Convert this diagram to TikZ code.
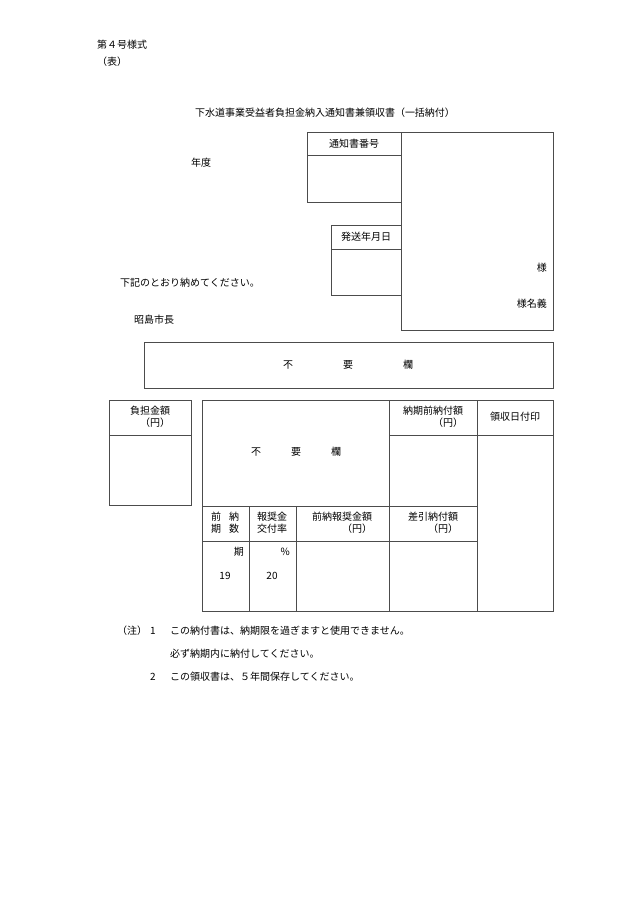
\documentclass[tikz,border=0pt]{standalone}
\usepackage{fontspec}
\setmainfont{Noto Sans CJK JP}
\usetikzlibrary{positioning}
\begin{document}
\begin{tikzpicture}[
    x=1pt, y=-1pt,
    font=\fontsize{10}{12}\selectfont,
    frame/.style={draw=black!70, line width=0.6pt},
    txt/.style={inner sep=0pt, anchor=west},
    rtxt/.style={inner sep=0pt, anchor=east},
    ctxt/.style={inner sep=0pt, align=center}
]
    \useasboundingbox (0,0) rectangle (630,903);

    % Heading
    \node[txt] (form) at (97,45) {第４号様式};
    \node[txt] (side) at (97,62) {（表）};
    \node[ctxt] (title) at (325,113) {下水道事業受益者負担金納入通知書兼領収書（一括納付）};
    \node[txt] (year) at (191,163) {年度};
    \node[txt] (pay) at (120,283) {下記のとおり納めてください。};
    \node[txt] (mayor) at (134,320) {昭島市長};

    % Upper boxes
    \draw[frame] (307,132) rectangle (401,202);
    \draw[frame] (307,155) -- (401,155);
    \node[ctxt] (numhd) at (354,144) {通知書番号};
    \draw[frame] (331,225) rectangle (401,295);
    \draw[frame] (331,249) -- (401,249);
    \node[ctxt] (datehd) at (366,237) {発送年月日};
    \draw[frame] (401,132) rectangle (553,330);
    \node[rtxt] (sama) at (547,268) {様};
    \node[rtxt] (meigi) at (547,304) {様名義};

    % Unneeded band
    \draw[frame] (144,342) rectangle (553,388);
    \node[ctxt] (fuyo1) at (348,365) {不\hspace{5em}要\hspace{5em}欄};

    % Burden amount
    \draw[frame] (109,400) rectangle (191,505);
    \draw[frame] (109,435) -- (191,435);
    \node[ctxt] (burden) at (150,417) {負担金額\\\hfill（円）};

    % Main table
    \draw[frame] (202,400) rectangle (553,611);
    \draw[frame] (389,400) -- (389,611);
    \draw[frame] (477,400) -- (477,611);
    \draw[frame] (389,435) -- (553,435);
    \draw[frame] (202,506) -- (477,506);
    \draw[frame] (202,541) -- (477,541);
    \draw[frame] (249,506) -- (249,611);
    \draw[frame] (296,506) -- (296,611);
    \node[ctxt] (fuyo2) at (296,452) {不\hspace{3em}要\hspace{3em}欄};
    \node[ctxt] (prepay) at (433,417) {納期前納付額\\\hfill（円）};
    \node[ctxt] (stamp) at (515,417) {領収日付印};
    \node[ctxt] (nterm) at (225,523) {前\hspace{0.8em}納\\期\hspace{0.8em}数};
    \node[ctxt] (rate) at (272,523) {報奨金\\交付率};
    \node[ctxt] (reward) at (342,523) {前納報奨金額\\\hfill（円）};
    \node[ctxt] (net) at (433,523) {差引納付額\\\hfill（円）};
    \node[rtxt] (ki) at (244,552) {期};
    \node[rtxt] (pct) at (290,552) {\%};
    \node[ctxt] (n19) at (225,576) {19};
    \node[ctxt] (n20) at (272,576) {20};

    % Notes
    \node[txt] (note) at (117,631) {（注）};
    \node[txt] (one) at (150,631) {1};
    \node[txt] (l1) at (170,631) {この納付書は、納期限を過ぎますと使用できません。};
    \node[txt] (l2) at (170,654) {必ず納期内に納付してください。};
    \node[txt] (two) at (150,677) {2};
    \node[txt] (l3) at (170,677) {この領収書は、５年間保存してください。};
\end{tikzpicture}
\end{document}
